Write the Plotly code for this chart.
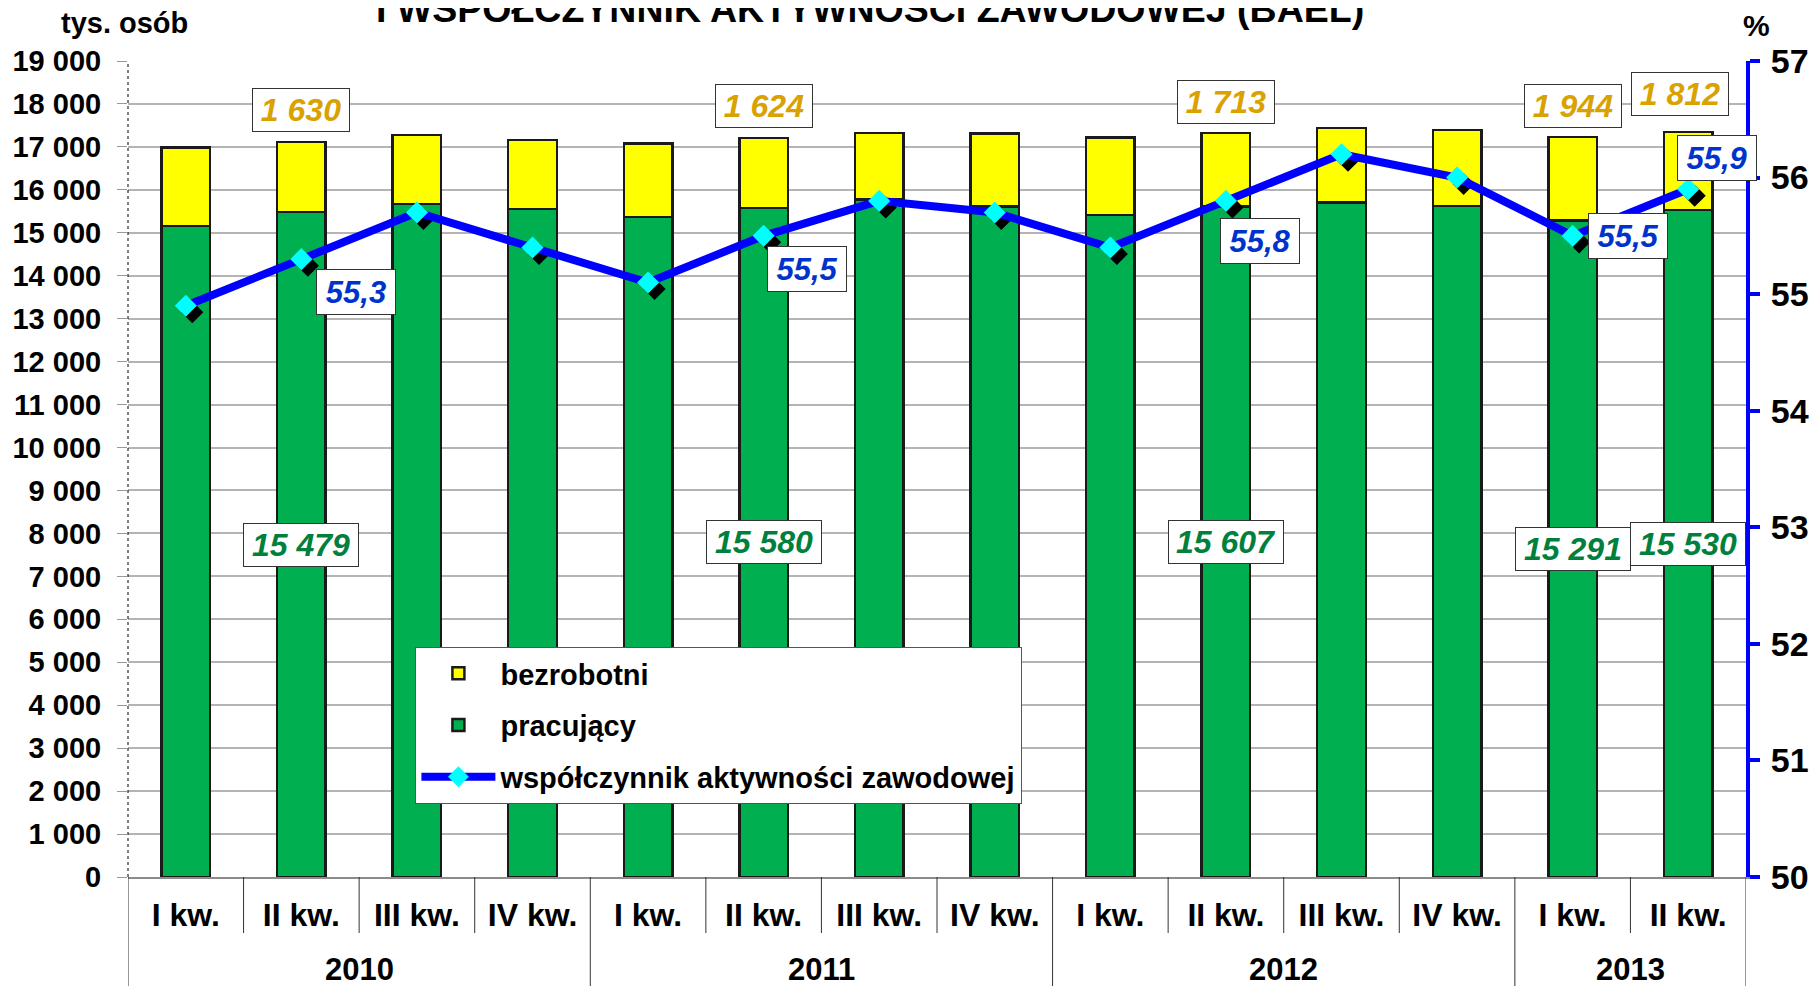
import plotly.graph_objects as go

# ---- data ----
lata = ["2010", "2011", "2012", "2013"]
kwartaly_w_roku = [4, 4, 4, 2]
kwartaly = ["I kw.", "II kw.", "III kw.", "IV kw.",
            "I kw.", "II kw.", "III kw.", "IV kw.",
            "I kw.", "II kw.", "III kw.", "IV kw.",
            "I kw.", "II kw."]
pracujacy = [15160, 15479, 15675, 15550, 15365, 15580, 15770, 15615,
             15410, 15607, 15710, 15620, 15291, 15530]
bezrobotni = [1825, 1630, 1599, 1606, 1713, 1624, 1558, 1698,
              1808, 1713, 1726, 1777, 1944, 1812]
wspolczynnik = [54.9, 55.3, 55.7, 55.4, 55.1, 55.5, 55.8, 55.7,
                55.4, 55.8, 56.2, 56.0, 55.5, 55.9]
etykiety_idx = [1, 5, 9, 12, 13]   # which quarters carry value labels

# ---- style ----
FONT = "Liberation Sans, Arial, sans-serif"
OFF = 8                      # page body margin
W, H = 1818 - OFF, 986 - OFF
# plot area in screen pixels: x 127.5..1746, y 61..877
ML = 127.5 - OFF
MT = 61 - OFF
MR = W - (1746 - OFF)
MB = H - (877 - OFF)
PW, PH = W - ML - MR, H - MT - MB
GREEN, YELLOW, BLUE, CYAN = "#00B050", "#FFFF00", "#0000FF", "#00FFFF"
C_YEL_TXT, C_GRN_TXT, C_BLU_TXT = "#D9A200", "#00803C", "#0033CC"
blue_shift = {1: (55, -33), 5: (43, -33), 9: (34, -40), 12: (55, 0), 13: (29, 31)}
yel_shift = {1: (0, 32), 5: (0, 32), 9: (0, 31), 12: (0, 31), 13: (-8, 38)}

n = len(kwartaly)
idx = list(range(n))
Y1MAX, Y2MIN, Y2MAX = 19000, 50, 57
# shadow offset of the diamonds, in pixels -> axis units
SH_PX = 6.5
sh_x = SH_PX / (PW / n)
sh_y = SH_PX / (PH / (Y2MAX - Y2MIN))

fig = go.Figure()
bar_line = dict(color="#1a1a1a", width=2.5)
fig.add_bar(x=idx, y=pracujacy, name="pracujący", legendrank=2, legendgroup="p",
            marker=dict(color=GREEN, line=bar_line), hoverinfo="y")
fig.add_bar(x=idx, y=bezrobotni, name="bezrobotni", legendrank=1, legendgroup="b",
            marker=dict(color=YELLOW, line=bar_line), hoverinfo="y")
fig.add_scatter(x=[i + sh_x for i in idx], y=[v - sh_y for v in wspolczynnik], yaxis="y2",
                mode="markers", marker=dict(symbol="diamond", size=17, color="black"),
                showlegend=False, hoverinfo="skip")
fig.add_scatter(x=idx, y=wspolczynnik, yaxis="y2", mode="lines+markers",
                name="współczynnik aktywności zawodowej", legendrank=3, legendgroup="w",
                line=dict(color=BLUE, width=8),
                marker=dict(symbol="diamond", size=17, color=CYAN))

def fmt_int(v):
    return f"{v:,}".replace(",", " ")

ann = []
lab_font = lambda c, s: dict(family=FONT, size=s, color=c, weight="bold", style="italic")
for i in etykiety_idx:
    dx, dy = yel_shift[i]
    ann.append(dict(x=i, y=pracujacy[i] + bezrobotni[i], xref="x", yref="y", xanchor="center",
                    text=fmt_int(bezrobotni[i]), showarrow=False, xshift=dx, yshift=dy,
                    font=lab_font(C_YEL_TXT, 32), bgcolor="white", bordercolor="#333333",
                    borderwidth=1, width=94, height=40))
    ann.append(dict(x=i, y=pracujacy[i] / 2, xref="x", yref="y", xanchor="center",
                    text=fmt_int(pracujacy[i]), showarrow=False,
                    font=lab_font(C_GRN_TXT, 32), bgcolor="white", bordercolor="#333333",
                    borderwidth=1, width=112, height=40))
    dx, dy = blue_shift[i]
    ann.append(dict(x=i, y=wspolczynnik[i], xref="x", yref="y2", xanchor="center",
                    text=f"{wspolczynnik[i]:.1f}".replace(".", ","), showarrow=False,
                    xshift=dx, yshift=dy,
                    font=lab_font(C_BLU_TXT, 31), bgcolor="white", bordercolor="#333333",
                    borderwidth=1, width=76, height=42))

def py(px):  # screen pixel y -> paper y
    return (MT + PH - (px - OFF)) / PH
def px_(x):  # screen pixel x -> paper x
    return (x - OFF - ML) / PW
bold = lambda s: dict(family=FONT, size=s, color="black", weight="bold")

# year labels and separators
shapes = []
start = 0
for rok, k in zip(lata, kwartaly_w_roku):
    ann.append(dict(x=start + (k - 1) / 2, y=py(969), xref="x", yref="paper", text=rok,
                    xanchor="center", yanchor="middle", showarrow=False, font=bold(31)))
    shapes.append(dict(type="line", xref="x", yref="paper", x0=start - 0.5, x1=start - 0.5,
                       y0=0, y1=py(990), line=dict(color="#333333", width=1)))
    for j in range(1, k):
        shapes.append(dict(type="line", xref="x", yref="paper", x0=start + j - 0.5, x1=start + j - 0.5,
                           y0=0, y1=py(933), line=dict(color="#333333", width=1)))
    start += k
shapes.append(dict(type="line", xref="x", yref="paper", x0=start - 0.5, x1=start - 0.5,
                   y0=0, y1=py(990), line=dict(color="#333333", width=1)))
shapes.append(dict(type="line", xref="paper", yref="paper", x0=0, x1=0, y0=0, y1=1,
                   line=dict(color="black", width=1, dash="dot")))

ann.append(dict(x=px_(124), y=py(23), xref="paper", yref="paper", text="tys. osób",
                xanchor="center", yanchor="middle", showarrow=False, font=bold(29)))
ann.append(dict(x=px_(1757), y=py(26), xref="paper", yref="paper", text="%",
                xanchor="center", yanchor="middle", showarrow=False, font=bold(30)))
ann.append(dict(x=px_(870), y=py(32), xref="paper", yref="paper", yanchor="bottom",
                xanchor="center", text="I WSPÓŁCZYNNIK AKTYWNOŚCI ZAWODOWEJ (BAEL)",
                showarrow=False, font=bold(37.5)))

fig.update_layout(
    width=W, height=H, margin=dict(l=ML, r=MR, t=MT, b=MB, pad=0, autoexpand=False),
    barmode="stack", bargap=0.58, plot_bgcolor="white", paper_bgcolor="white",
    separators=", ", showlegend=True,
    font=dict(family=FONT, size=29, color="black", weight="bold"),
    xaxis=dict(range=[-0.5, n - 0.5], tickvals=idx, ticktext=kwartaly, ticks="",
               showgrid=False, showline=True, linecolor="#8c8c8c", linewidth=1.5,
               zeroline=False, ticklabelstandoff=9, automargin=False,
               tickfont=bold(32)),
    yaxis=dict(range=[0, Y1MAX], dtick=1000, tickformat=",d", showgrid=True,
               gridcolor="#b4b4b4", gridwidth=1.5, ticks="outside", ticklen=10,
               tickcolor="#999999", showline=False, zeroline=False, ticklabelstandoff=10,
               automargin=False, tickfont=bold(29)),
    yaxis2=dict(overlaying="y", side="right", range=[Y2MIN, Y2MAX], dtick=1, showgrid=False,
                showline=True, linecolor=BLUE, linewidth=4, ticks="outside", ticklen=10,
                tickwidth=4, tickcolor=BLUE, zeroline=False, ticklabelstandoff=4,
                automargin=False, tickfont=bold(34)),
    legend=dict(x=px_(415), y=py(647), xanchor="left", yanchor="top",
                bgcolor="white", bordercolor="#555555", borderwidth=1,
                font=bold(29), traceorder="grouped", tracegroupgap=11, itemwidth=74),
    annotations=ann, shapes=shapes,
)

fig.write_html("out.html")
